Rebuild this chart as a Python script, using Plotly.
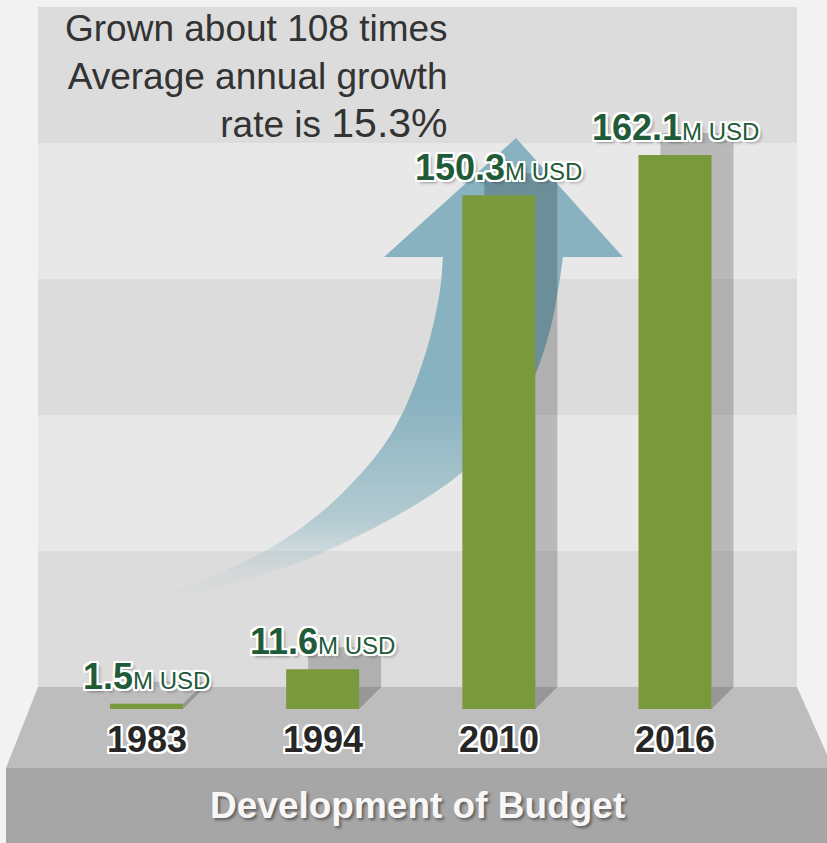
import numpy as np
import plotly.graph_objects as go

# ---- data ----
years = ["1983", "1994", "2010", "2016"]
budget_musd = [1.5, 11.6, 150.3, 162.1]
value_unit = "M USD"
summary_lines = ["Grown about 108 times", "Average annual growth", "rate is 15.3%"]
chart_title = "Development of Budget"

# ---- canvas geometry (px) ----
W, H = 827, 843
WALL_L, WALL_R, WALL_T = 38, 797, 7
FLOOR_T, FLOOR_B = 687, 768
BAND_H = 136
ZERO_PX, PEAK_PX = 709, 155          # where 0 and the largest value sit
FIRST_PX, LAST_PX = 146.5, 675       # centres of first and last bar
BAR_PX, DEPTH_PX = 73, 22            # bar width, 3-D depth offset

FONT = "Liberation Sans, Arial, sans-serif"
GREEN = "#7a993c"
LABEL_GREEN = "#1f5b39"
SHADE = "rgba(0,0,0,0.2)"
WHITE_RING = ",".join(f"{a}px {b}px 0 #fff" for a, b in
                      [(-2, -2), (2, -2), (-2, 2), (2, 2), (0, -2), (0, 2), (-2, 0), (2, 0)])

# ---- data-axis scaling ----
n = len(years)
pos = np.arange(n)
step = (LAST_PX - FIRST_PX) / (n - 1)
ppu = (ZERO_PX - PEAK_PX) / max(budget_musd)
x_range = [-FIRST_PX / step, (W - FIRST_PX) / step]
y_range = [-(H - ZERO_PX) / ppu, ZERO_PX / ppu]
bar_w = BAR_PX / step
dx = DEPTH_PX / step
dy = DEPTH_PX / ppu                   # depth rise == floor height above zero


def smooth(pts, per=10):
    """Catmull-Rom curve through control points."""
    p = np.array(pts, float)
    p = np.vstack([p[0], p, p[-1]])
    out = []
    for i in range(1, len(p) - 2):
        p0, p1, p2, p3 = p[i - 1], p[i], p[i + 1], p[i + 2]
        for t in np.linspace(0, 1, per, endpoint=False):
            out.append(0.5 * (2 * p1 + (-p0 + p2) * t
                              + (2 * p0 - 5 * p1 + 4 * p2 - p3) * t * t
                              + (-p0 + 3 * p1 - 3 * p2 + p3) * t ** 3))
    out.append(p[-2])
    return np.array(out)


# ---- backdrop: striped wall, floor, title strip ----
shapes = []
for i, top in enumerate(range(WALL_T, FLOOR_T, BAND_H)):
    shapes.append(dict(type="rect", xref="x", yref="y", layer="below",
                       x0=WALL_L, x1=WALL_R, y0=top, y1=min(top + BAND_H, FLOOR_T),
                       fillcolor="#dcdcdc" if i % 2 == 0 else "#e8e8e8", line_width=0))
shapes.append(dict(type="path", xref="x", yref="y", layer="below", line_width=0,
                   fillcolor="#bdbdbd",
                   path=f"M {WALL_L},{FLOOR_T} L {WALL_R},{FLOOR_T} L {W + 6},{FLOOR_B} L 6,{FLOOR_B} Z"))
shapes.append(dict(type="rect", xref="x", yref="y", layer="below", line_width=0,
                   fillcolor="#a6a6a6", x0=6, x1=W + 2, y0=FLOOR_B, y1=H + 2))

# ---- growth arrow (decor axes, px) ----
upper_edge = [(443, 257), (440, 290), (432, 330), (420, 370), (404, 410), (384, 445),
              (355, 480), (318, 515), (272, 547), (215, 575), (160, 595), (118, 606)]
lower_edge = [(563, 257), (558, 290), (550, 330), (535, 375), (515, 410), (490, 445),
              (455, 478), (410, 508), (360, 535), (300, 562), (230, 585), (165, 600), (118, 606)]
head = [(384, 257), (516, 138), (623, 257)]
lo = smooth(lower_edge)
up = smooth(upper_edge)[::-1]
arrow = np.vstack([np.array(head, float), lo, up, np.array(head[:1], float)])

fig = go.Figure()
fig.add_trace(go.Scatter(
    x=arrow[:, 0], y=arrow[:, 1], mode="none", fill="toself",
    fillgradient=dict(type="vertical", start=602, stop=395,
                      colorscale=[[0, "rgba(136,178,191,0)"], [0.15, "rgba(136,178,191,0.1)"],
                                  [0.4, "rgba(136,178,191,0.55)"], [0.85, "rgba(136,178,191,0.9)"],
                                  [1, "rgba(136,178,191,1)"]]),
    hoverinfo="skip", xaxis="x", yaxis="y"))

# ---- bars with their wall shadow and side face ----
fig.add_trace(go.Bar(x=pos, y=budget_musd, base=dy, width=bar_w, offset=-bar_w / 2 + dx,
                     marker=dict(color=SHADE, line_width=0), hoverinfo="skip",
                     xaxis="x2", yaxis="y2"))

sx, sy = [], []
for i, v in enumerate(budget_musd):
    xr = i + bar_w / 2
    c = min(v, dy)
    sx += [xr, xr, xr + dx * (dy - c) / dy, xr + dx, xr, None]
    sy += [0, c, dy, dy, 0, None]
fig.add_trace(go.Scatter(x=sx, y=sy, mode="none", fill="toself", fillcolor=SHADE,
                         hoverinfo="skip", xaxis="x2", yaxis="y2"))

fig.add_trace(go.Bar(x=pos, y=budget_musd, width=bar_w,
                     marker=dict(color=GREEN, line_width=0),
                     hovertemplate="%{y} M USD<extra></extra>", xaxis="x2", yaxis="y2"))

# ---- text ----
ann = []
for i, v in enumerate(budget_musd):
    ann.append(dict(xref="x2", yref="y2", x=i, y=v, yanchor="bottom", yshift=5, showarrow=False,
                    text=f"<b>{v:g}</b><span style='font-size:24px'>{value_unit}</span>",
                    font=dict(family=FONT, size=36, color=LABEL_GREEN,
                              shadow=WHITE_RING + ",3px 3px 3px rgba(0,0,0,0.35)")))
for i, yr in enumerate(years):
    ann.append(dict(xref="x2", yref="y", x=i, y=739, yanchor="middle", showarrow=False, text=yr,
                    font=dict(family=FONT, size=36, weight="bold", color="#262626",
                              shadow=WHITE_RING)))
ann.append(dict(xref="x", yref="y", x=450, y=6, xanchor="right", yanchor="top", align="right",
                showarrow=False,
                text="<br>".join(summary_lines[:2]
                                 + [summary_lines[2].replace("15.3%", "<span style='font-size:41px'>15.3%</span>")]),
                font=dict(family=FONT, size=37, color="#333333")))
ann.append(dict(xref="x", yref="y", x=417, y=805, yanchor="middle", showarrow=False,
                text=chart_title,
                font=dict(family=FONT, size=37, weight="bold", color="#f7f7f7",
                          shadow="2px 2px 3px rgba(0,0,0,0.45)")))

fig.update_layout(
    width=W, height=H, margin=dict(l=0, r=0, t=0, b=0),
    paper_bgcolor="#f2f2f2", plot_bgcolor="rgba(0,0,0,0)",
    barmode="overlay", showlegend=False, shapes=shapes, annotations=ann,
    xaxis=dict(range=[0, W], visible=False, fixedrange=True),
    yaxis=dict(range=[H, 0], visible=False, fixedrange=True),
    xaxis2=dict(range=x_range, overlaying="x", anchor="y2", visible=False, fixedrange=True),
    yaxis2=dict(range=y_range, overlaying="y", anchor="x2", visible=False, fixedrange=True),
)

fig.write_html("out.html")
